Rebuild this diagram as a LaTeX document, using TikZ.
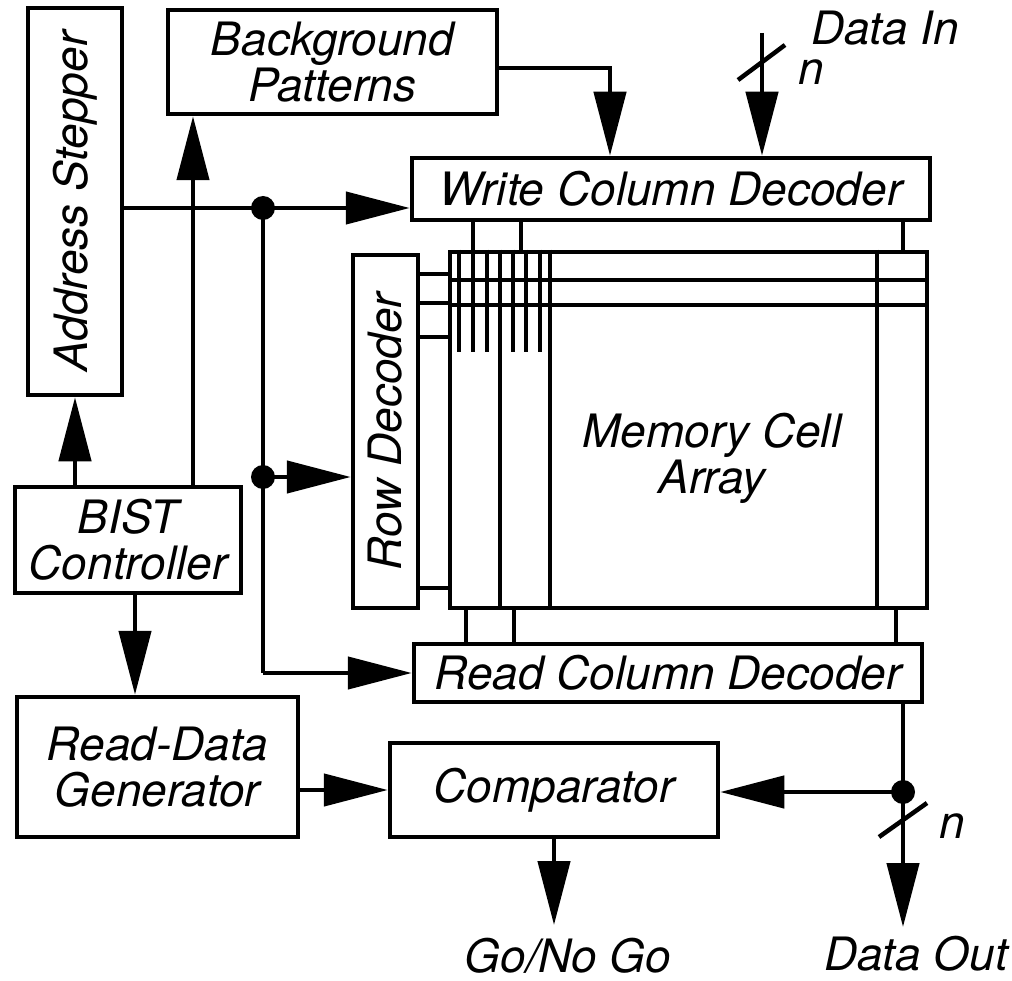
\documentclass[tikz,border=0pt]{standalone}
\usepackage{fontspec}
\setmainfont{TeX Gyre Heros}
\usetikzlibrary{arrows.meta}
\newcommand\dlabel{\fontsize{46}{46}\selectfont\itshape}
\begin{document}
\begin{tikzpicture}[x=1pt,y=-1pt,
  box/.style={draw, line width=4.5pt, inner sep=0pt, align=center, font=\dlabel},
  conn/.style={line width=4.5pt},
  arr/.style={conn, -{Triangle[length=64pt,width=32pt]}},
  gridln/.style={line width=4pt},
  dotn/.style={circle, fill, inner sep=0pt, minimum size=24pt},
  lab/.style={font=\dlabel, inner sep=0pt}]
\useasboundingbox (0,0) rectangle (1012,981);

% boxes
\node[box, minimum width=94pt, minimum height=387pt] (as) at (75,201.5) {\rotatebox{90}{Address Stepper}};
\node[box, minimum width=329pt, minimum height=104pt] (bp) at (332.5,62) {Background\\Patterns};
\node[box, minimum width=518pt, minimum height=62pt] (wcd) at (671,189) {Write Column Decoder};
\node[box, minimum width=65pt, minimum height=353pt] (rd) at (385.5,431.5) {\rotatebox{90}{Row Decoder}};
\node[box, minimum width=477pt, minimum height=356pt] (arr) at (688.5,430) {};
\node[lab, align=center] (arrt) at (712,458) {Memory Cell\\Array};
\node[box, minimum width=508pt, minimum height=58pt] (rcd) at (668,673) {Read Column Decoder};
\node[box, minimum width=226pt, minimum height=106pt] (bist) at (128,540) {BIST\\Controller};
\node[box, minimum width=281pt, minimum height=140pt] (rdg) at (157.5,767) {Read-Data\\Generator};
\node[box, minimum width=328pt, minimum height=94pt] (cmp) at (554,790) {Comparator};

% free labels
\node[lab] (din) at (885,28) {Data In};
\node[lab] (nin) at (811,72) {n};
\node[lab] (dout) at (916,954) {Data Out};
\node[lab] (nout) at (952,826) {n};
\node[lab] (go) at (568,956) {Go/No Go};

% array internals
\foreach \y in {280,305} \draw[gridln] (arr.west |- 0,\y) -- (arr.east |- 0,\y);
\foreach \x in {459,473,487,513,526,540} \draw[gridln] (\x,0 |- arr.north) -- (\x,352);
\foreach \x in {500,550,877} \draw[gridln] (\x,0 |- arr.north) -- (\x,0 |- arr.south);
\foreach \x in {473,521,903} \draw[gridln] (\x,0 |- wcd.south) -- (\x,0 |- arr.north);
\foreach \y in {274,303,337,588} \draw[gridln] (rd.east |- 0,\y) -- (arr.west |- 0,\y);
\foreach \x in {466,514,896} \draw[gridln] (\x,0 |- arr.south) -- (\x,0 |- rcd.north);

% coordinates
\coordinate (d1) at (263,208);
\coordinate (d2) at (263,477);
\coordinate (d4) at (263,673);
\coordinate (b1) at (193,0);
\coordinate (b2) at (610,68);
\coordinate (b3) at (135,0);
\coordinate (dintop) at (762,33);
\coordinate (d3) at (903,792);
\coordinate (douttip) at (903,927);
\coordinate (gotip) at (554,925);
\coordinate (s1a) at (738,80);
\coordinate (s1b) at (785,45);
\coordinate (s2a) at (879,837);
\coordinate (s2b) at (927,803);

% connectors
\draw[conn] (as.east |- d1) -- (d1);
\draw[arr] (d1) -- (d1 -| wcd.west);
\draw[conn] (d1) -- (d4);
\draw[arr] (d4) -- (d4 -| rcd.west);
\draw[arr] (d2) -- (d2 -| rd.west);
\node[dotn] at (d1) {};
\node[dotn] at (d2) {};

\draw[arr] (bist.north -| as.south) -- (as.south);
\draw[arr] (b1 |- bist.north) -- (b1 |- bp.south);
\draw[arr] (bp.east |- b2) -- (b2) -- (b2 |- wcd.north);
\draw[arr] (dintop) -- (dintop |- wcd.north);
\draw[conn] (s1a) -- (s1b);

\draw[arr] (b3 |- bist.south) -- (b3 |- rdg.north);
\draw[arr] (rdg.east |- cmp.west) -- (cmp.west);
\draw[conn] (d3 |- rcd.south) -- (d3);
\draw[arr] (d3) -- (douttip);
\draw[arr] (d3) -- (d3 -| cmp.east);
\node[dotn] at (d3) {};
\draw[conn] (s2a) -- (s2b);
\draw[arr] (cmp.south) -- (gotip);
\end{tikzpicture}
\end{document}
